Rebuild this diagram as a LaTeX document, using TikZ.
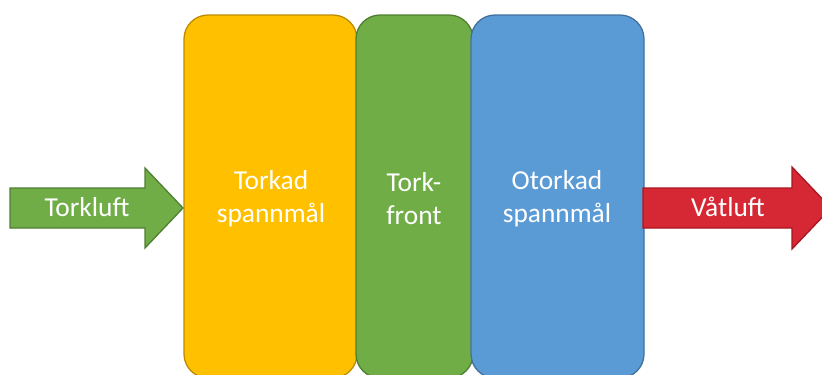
\documentclass[tikz,border=0pt]{standalone}
\usepackage{fontspec}
\setmainfont{Carlito}
\definecolor{goldfill}{RGB}{255,192,0}
\definecolor{goldline}{RGB}{188,140,0}
\definecolor{leaffill}{RGB}{112,173,71}
\definecolor{leafline}{RGB}{80,126,50}
\definecolor{skyfill}{RGB}{91,155,213}
\definecolor{skyline}{RGB}{65,113,156}
\definecolor{redfill}{RGB}{214,40,52}
\definecolor{redline}{RGB}{168,22,32}
\tikzset{
  layer/.style={rounded corners=24bp, line width=1.3bp},
  flowarrow/.style={line width=1.3bp, line join=miter},
  label/.style={text=white, font=\fontsize{27.5}{33}\selectfont, align=center, inner sep=0pt}
}
\begin{document}
\begin{tikzpicture}[x=1bp,y=-1bp]
\useasboundingbox (0,0) rectangle (822,374);
\clip (0,0) rectangle (822,374);
% grain layers
\draw[layer, fill=goldfill, draw=goldline] (184,15) rectangle (357,378);
\draw[layer, fill=leaffill, draw=leafline] (356,15) rectangle (473,378);
\draw[layer, fill=skyfill, draw=skyline] (471,15) rectangle (644,378);
\node[label] (dry) at (271,199) {Torkad\\spannmål};
\node[label] (front) at (414,199) {Tork-\\front};
\node[label] (wet) at (557,199) {Otorkad\\spannmål};
% air in and out
\draw[flowarrow, fill=leaffill, draw=leafline]
  (10,188) -- (145,188) -- (145,168) -- (183,208) -- (145,248) -- (145,228) -- (10,228) -- cycle;
\draw[flowarrow, fill=redfill, draw=redline]
  (643,188) -- (792,188) -- (792,167) -- (831,208) -- (792,249) -- (792,228) -- (643,228) -- cycle;
\node[label] (inair) at (87,207) {Torkluft};
\node[label] (outair) at (728,207) {Våtluft};
\end{tikzpicture}
\end{document}
